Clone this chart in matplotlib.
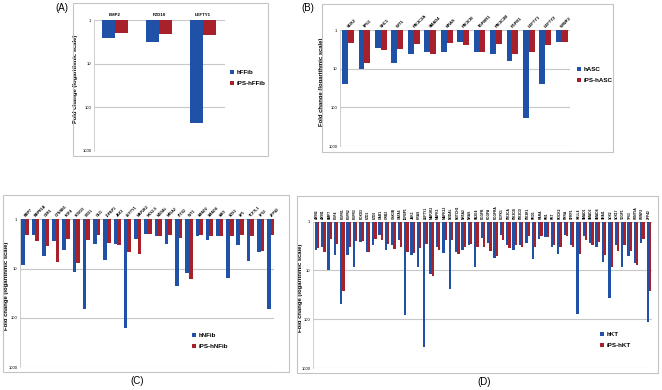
import matplotlib
matplotlib.use("Agg")
import matplotlib.pyplot as plt
import numpy as np
from matplotlib.patches import Rectangle
from matplotlib.ticker import FixedLocator, NullLocator

plt.rcParams["font.family"] = ["Liberation Sans", "DejaVu Sans"]

W, H = 662, 390
BLUE = "#1f52a6"
RED = "#a8202a"

# (A) hFFib vs iPS-hFFib
genes_a = ["BMP2", "FZD10", "LEFTY1"]
hffib = [2.56, 3.2, 230]
ips_hffib = [1.96, 2.14, 2.26]

# (B) hASC vs iPS-hASC
genes_b = ["SOX2", "TP53", "SHC1", "WT1", "PIK3C2A", "SMAD4", "KRAS", "PIK3CB",
           "TGFBR1", "PIK3C2B", "FGFR1", "LEFTY1", "LEFTY2", "WWP2"]
hasc = [25, 10, 3.0, 7.3, 4.3, 3.6, 3.8, 2.1, 3.7, 4.2, 6.3, 192, 25, 2.1]
ips_hasc = [2.2, 7.0, 3.2, 3.1, 2.35, 4.2, 2.2, 2.5, 3.7, 2.35, 4.1, 3.6, 2.4, 2.1]

# (C) hNFib vs iPS-hNFib
genes_c = ["BMP7", "BMPR1B", "CER1", "CTNNB1", "FGF4", "FOXD3", "FZD1", "GLI1",
           "IGFBP1", "JAK3", "LEFTY1", "MAP2K2", "NKX2-5", "NODAL", "NR5A2",
           "PITX2", "WT1", "SMAD2", "SMAD4", "SMO", "SOX2", "SP1", "TCF7L1",
           "TP53", "ZFP42"]
hnfib = [8.3, 2.1, 5.5, 2.7, 4.2, 11.7, 65, 3.1, 6.7, 3.2, 162, 2.5, 2.0, 2.2,
         3.1, 22, 12, 2.2, 2.6, 2.2, 15.7, 3.3, 7.0, 4.6, 65]
ips_hnfib = [2.1, 2.7, 3.4, 7.2, 2.5, 7.8, 2.6, 2.1, 3.0, 3.3, 4.6, 5.0, 2.0,
             2.2, 2.1, 2.4, 16, 2.1, 2.2, 2.2, 2.2, 2.1, 2.2, 4.3, 2.1]

# (D) hKT vs iPS-hKT
genes_d = ["AXIN2", "AXIN1", "BMP7", "FGF4", "FGFR1", "FGFR2", "FGFR3", "FOXD3",
           "FZD1", "FZD6", "GAB1", "GRB2", "GSK3B", "GATA6", "IGFBP1", "JAK3",
           "KRAS", "LEFTY1", "MAP2K2", "MAPK1", "MAPK12", "NODAL", "NOTCH1",
           "NR5A2", "NRAS", "PA2G4", "PDGFB", "PDGFA", "PDGFRA", "PDPK1",
           "PIK3CA", "PIK3CB", "PIK3CD", "PIK3R1", "PKD1", "RARA", "RB1", "RET",
           "ROCK2", "RXRA", "SFRP1", "SALL4", "SMAD1", "SMAD3", "SMAD4", "SNAI1",
           "SOX2", "SOX17", "TDGF1", "TP63", "WNT5A", "WWP2", "ZFP42"]
hkt = [3.9, 3.4, 10, 4.9, 48, 4.9, 8.4, 2.6, 4.3, 3.1, 1.9, 3.8, 3.0, 2.4, 83,
       4.8, 8.4, 380, 12, 3.4, 4.5, 24.6, 4.3, 3.8, 3.0, 8.4, 2.2, 2.8, 5.7, 1.9,
       3.0, 3.8, 3.0, 2.8, 5.8, 2.3, 2.1, 3.4, 4.6, 1.9, 3.0, 79, 1.97, 2.8, 3.3,
       6.6, 37.6, 3.0, 8.7, 5.2, 7.2, 2.7, 117]
ips_hkt = [3.5, 4.3, 2.3, 2.9, 27, 3.3, 2.5, 2.5, 4.3, 2.3, 2.4, 2.9, 3.6, 3.4,
           4.3, 4.5, 3.5, 2.9, 13, 3.8, 2.4, 2.4, 4.6, 3.3, 2.9, 3.4, 3.3, 4.1,
           5.2, 2.4, 3.5, 3.0, 3.3, 2.0, 3.3, 2.0, 2.1, 3.0, 3.3, 2.0, 3.4, 4.6,
           2.4, 3.0, 2.6, 4.8, 8.4, 4.1, 3.0, 4.1, 7.8, 2.3, 27]


def px_rect(x0, y0, x1, y1):
    return [x0 / W, 1 - y1 / H, (x1 - x0) / W, (y1 - y0) / H]


def panel(fig, area, frame, xlim, genes, s1, s2, names, width, rot, lsize,
          leg_xy, tag, tag_xy, ylab_x):
    fx0, fy0, fx1, fy1 = frame
    fig.patches.append(Rectangle((fx0 / W, 1 - fy1 / H), (fx1 - fx0) / W,
                                 (fy1 - fy0) / H, transform=fig.transFigure,
                                 fill=False, ec="#c4c4c4", lw=0.8))
    ax = fig.add_axes(px_rect(*area))
    x = np.arange(len(genes))
    v1 = np.array(s1)
    v2 = np.array(s2)
    ax.bar(x - width / 2, v1 - 1, width, bottom=1, color=BLUE, label=names[0], zorder=3)
    ax.bar(x + width / 2, v2 - 1, width, bottom=1, color=RED, label=names[1], zorder=3)
    ax.set_yscale("log")
    ax.set_ylim(1000, 1)
    ax.set_xlim(*xlim)
    ax.yaxis.set_major_locator(FixedLocator([1, 10, 100, 1000]))
    ax.yaxis.set_minor_locator(NullLocator())
    ax.set_yticklabels(["1", "10", "100", "1000"])
    ax.yaxis.grid(True, color="#c8c8c8", lw=0.8, zorder=0)
    for s in ax.spines.values():
        s.set_visible(False)
    ax.spines["left"].set_visible(True)
    ax.spines["left"].set_color("#c8c8c8")
    ax.spines["left"].set_linewidth(0.6)
    ax.xaxis.tick_top()
    ax.set_xticks(x)
    if rot == 0:
        ax.set_xticklabels(genes, fontsize=lsize, fontweight="bold")
    else:
        ax.set_xticklabels(genes, rotation=rot, ha="left", va="center",
                           rotation_mode="anchor", fontsize=lsize,
                           fontweight="bold")
    ax.tick_params(axis="both", length=0, pad=2)
    ax.tick_params(axis="y", labelsize=3)
    ax.set_ylabel("Fold change (logarithmic scale)", fontsize=4.2, fontweight="bold")
    ax.yaxis.set_label_coords(ylab_x, 0.55)
    ax.legend(loc="upper left", bbox_to_anchor=(leg_xy[0] / W, 1 - leg_xy[1] / H),
              bbox_transform=fig.transFigure, frameon=False, fontsize=4.5,
              prop={"weight": "bold", "size": 4.5}, handlelength=0.6,
              handleheight=0.6, handletextpad=0.4, labelspacing=0.9,
              borderpad=0, borderaxespad=0)
    fig.text(tag_xy[0] / W, 1 - tag_xy[1] / H, tag, fontsize=7,
             ha="center", va="center")
    return ax


fig = plt.figure(figsize=(6.62, 3.9), dpi=100)

panel(fig, (94, 20, 225, 150.7), (73, 3, 268, 156), (-0.48, 2.5), genes_a,
      hffib, ips_hffib, ["hFFib", "iPS-hFFib"], 0.29, 0, 3.2, (230, 70),
      "(A)", (62, 8), -0.12)
panel(fig, (340, 30, 570, 146), (322, 4, 613, 152), (-0.49, 13.5), genes_b,
      hasc, ips_hasc, ["hASC", "iPS-hASC"], 0.36, 45, 3.0, (577, 67),
      "(B)", (308, 8), -0.07)
panel(fig, (20, 219.3, 274, 367.3), (3, 195, 289, 372), (-0.49, 24.3), genes_c,
      hnfib, ips_hnfib, ["hNFib", "iPS-hNFib"], 0.36, 45, 2.6, (192, 333),
      "(C)", (137, 381), -0.045)
panel(fig, (313, 221.5, 652, 368), (297, 196, 658, 373), (-0.6, 52.5), genes_d,
      hkt, ips_hkt, ["hKT", "iPS-hKT"], 0.36, 90, 2.3, (600, 332),
      "(D)", (484, 382), -0.03)

fig.savefig("out.png", dpi=100)
